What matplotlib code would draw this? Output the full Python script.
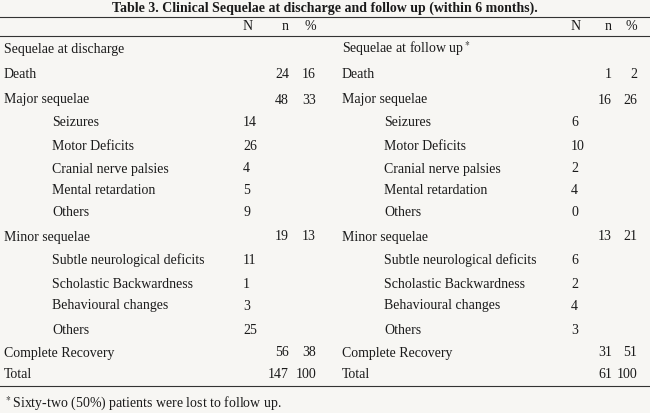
import matplotlib.pyplot as plt

title = 'Table 3. Clinical Sequelae at discharge and follow up (within 6 months).'

# (label, indented, N, n, %)
left_rows = [
    ('Sequelae at discharge', False, '', '', ''),
    ('Death', False, '', '24', '16'),
    ('Major sequelae', False, '', '48', '33'),
    ('Seizures', True, '14', '', ''),
    ('Motor Deficits', True, '26', '', ''),
    ('Cranial nerve palsies', True, '4', '', ''),
    ('Mental retardation', True, '5', '', ''),
    ('Others', True, '9', '', ''),
    ('Minor sequelae', False, '', '19', '13'),
    ('Subtle neurological deficits', True, '11', '', ''),
    ('Scholastic Backwardness', True, '1', '', ''),
    ('Behavioural changes', True, '3', '', ''),
    ('Others', True, '25', '', ''),
    ('Complete Recovery', False, '', '56', '38'),
    ('Total', False, '', '147', '100'),
]
right_rows = [
    ('Sequelae at follow up$^*$', False, '', '', ''),
    ('Death', False, '', '1', '2'),
    ('Major sequelae', False, '', '16', '26'),
    ('Seizures', True, '6', '', ''),
    ('Motor Deficits', True, '10', '', ''),
    ('Cranial nerve palsies', True, '2', '', ''),
    ('Mental retardation', True, '4', '', ''),
    ('Others', True, '0', '', ''),
    ('Minor sequelae', False, '', '13', '21'),
    ('Subtle neurological deficits', True, '6', '', ''),
    ('Scholastic Backwardness', True, '2', '', ''),
    ('Behavioural changes', True, '4', '', ''),
    ('Others', True, '3', '', ''),
    ('Complete Recovery', False, '', '31', '51'),
    ('Total', False, '', '61', '100'),
]
row_y = [49, 75, 100, 123, 146, 169, 191, 213, 237, 260, 284, 306, 330, 353, 375]
footnote = '$^*$Sixty-two (50%) patients were lost to follow up.'

plt.rcParams['font.family'] = ['Liberation Serif', 'DejaVu Serif']
plt.rcParams['mathtext.fontset'] = 'stix'
fig = plt.figure(figsize=(6.5, 4.13), dpi=100, facecolor='#f7f6f3')
ax = fig.add_axes([0, 0, 1, 1])
ax.set_xlim(0, 650)
ax.set_ylim(413, 0)
ax.axis('off')
fs = 10
col = '#1a1a1a'

ax.text(325, 8, title, ha='center', va='center', fontsize=fs, fontweight='bold', color=col)
for y in (17, 36, 386):
    ax.plot([0, 650], [y, y], color='#333333', lw=0.8)

def block(rows, x0, xind, xN, xn, xp):
    ax.text(xN, 26, 'N', ha='left', va='center', fontsize=fs, color=col)
    ax.text(xn, 26, 'n', ha='right', va='center', fontsize=fs, color=col)
    ax.text(xp, 26, '%', ha='right', va='center', fontsize=fs, color=col)
    for (lab, ind, N, n, p), y in zip(rows, row_y):
        ax.text(xind if ind else x0, y, lab, ha='left', va='center', fontsize=fs, color=col)
        ax.text(xN, y, N, ha='left', va='center', fontsize=fs, color=col)
        ax.text(xn, y, n, ha='right', va='center', fontsize=fs, color=col)
        ax.text(xp, y, p, ha='right', va='center', fontsize=fs, color=col)

block(left_rows, 4, 52, 243, 289, 316)
block(right_rows, 342, 384, 571, 612, 637)

ax.text(4, 404, footnote, ha='left', va='center', fontsize=fs, color=col)

fig.savefig('out.png', dpi=100, facecolor=fig.get_facecolor())
